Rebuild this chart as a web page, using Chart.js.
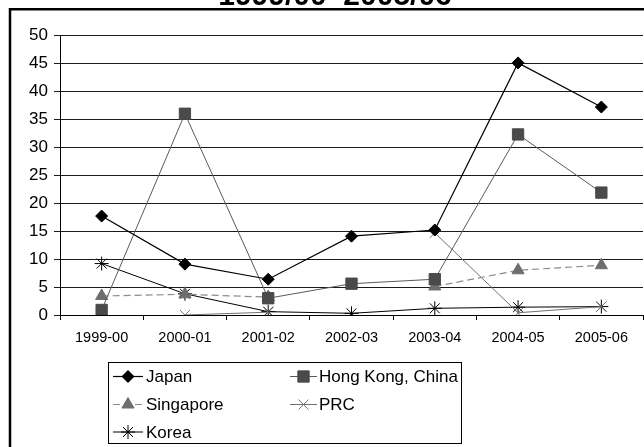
<!DOCTYPE html>
<html>
<head>
<meta charset="utf-8">
<script src="https://cdn.jsdelivr.net/npm/chart.js@4.4.1/dist/chart.umd.min.js"></script>
<style>
  html, body { margin: 0; padding: 0; background: #fff; overflow: hidden; }
  #wrap { position: absolute; left: 0; top: 0; width: 652px; height: 447px; }
</style>
</head>
<body>
<div id="wrap"><canvas id="c" width="652" height="447"></canvas></div>
<script>
// Fiscal years on the category axis
const categories = ['1999-00', '2000-01', '2001-02', '2002-03', '2003-04', '2004-05', '2005-06'];

// Shares by source economy (percent)
const japan     = [17.7, 9.1, 6.4, 14.1, 15.2, 45.1, 37.2];
const hongKong  = [0.9, 36.0, 3.0, 5.6, 6.4, 32.3, 21.9];
const singapore = [3.4, 3.7, 3.2, null, 5.1, 8.0, 8.9];
const prc       = [null, 0.0, 0.5, null, 14.7, 0.4, 1.5];
const korea     = [9.2, 3.8, 0.6, 0.3, 1.2, 1.4, 1.5];

// Y axis ticks
const yTicks = [0, 5, 10, 15, 20, 25, 30, 35, 40, 45, 50];

const titleText = '1999/00\u20132005/06';
const FONT = '"Liberation Sans", Arial, sans-serif';

const datasets = [
  { label: 'Japan', data: japan, borderColor: '#000', borderWidth: 1.2,
    pointStyle: 'rectRot', pointRadius: 6, pointBackgroundColor: '#000', pointBorderColor: '#000', pointBorderWidth: 1 },
  { label: 'Hong Kong, China', data: hongKong, borderColor: '#5a5a5a', borderWidth: 1,
    pointStyle: 'rect', pointRadius: 8, pointBackgroundColor: '#4a4a4a', pointBorderColor: '#4a4a4a', pointBorderWidth: 1 },
  { label: 'Singapore', data: singapore, borderColor: '#8c8c8c', borderWidth: 1.2, borderDash: [7, 4],
    pointStyle: 'triangle', pointRadius: 7, pointBackgroundColor: '#6e6e6e', pointBorderColor: '#6e6e6e', pointBorderWidth: 1 },
  { label: 'PRC', data: prc, borderColor: '#707070', borderWidth: 1,
    pointStyle: 'crossRot', pointRadius: 7, pointBackgroundColor: '#777', pointBorderColor: '#777', pointBorderWidth: 1 },
  { label: 'Korea', data: korea, borderColor: '#000', borderWidth: 1,
    pointStyle: 'star', pointRadius: 7, pointBackgroundColor: '#000', pointBorderColor: '#000', pointBorderWidth: 1 }
];
datasets.forEach(d => { d.fill = false; d.tension = 0; d.spanGaps = false; d.pointHoverRadius = d.pointRadius; });

// Frame, partially visible title and boxed two-column legend
const decorations = {
  id: 'decorations',
  beforeDraw(chart) {
    const ctx = chart.ctx;
    ctx.save();
    ctx.fillStyle = '#fff';
    ctx.fillRect(0, 0, chart.width, chart.height);
    ctx.strokeStyle = '#000';
    ctx.lineWidth = 2.5;
    ctx.beginPath();
    ctx.moveTo(10, chart.height + 5);
    ctx.lineTo(10, 9.3);
    ctx.lineTo(chart.width + 5, 9.3);
    ctx.stroke();
    ctx.restore();
  },
  afterDraw(chart) {
    const ctx = chart.ctx;
    ctx.save();
    // title
    ctx.fillStyle = '#000';
    ctx.font = 'bold 30px ' + FONT;
    ctx.textAlign = 'center';
    ctx.textBaseline = 'alphabetic';
    ctx.fillText(titleText, 335, 4.5);

    // legend box
    const box = { x: 108.5, y: 362.5, w: 353, h: 81 };
    ctx.strokeStyle = '#000';
    ctx.lineWidth = 1;
    ctx.strokeRect(box.x, box.y, box.w, box.h);

    const cols = [{ x0: 113, x1: 143, tx: 146 }, { x0: 290, x1: 317, tx: 319 }];
    const rows = [376.5, 404.5, 432];
    ctx.font = '17px ' + FONT;
    ctx.textAlign = 'left';
    ctx.textBaseline = 'middle';
    chart.data.datasets.forEach((ds, i) => {
      const col = cols[i % 2];
      const y = rows[Math.floor(i / 2)];
      ctx.save();
      ctx.strokeStyle = ds.borderColor;
      ctx.lineWidth = ds.borderWidth;
      ctx.setLineDash(ds.borderDash || []);
      ctx.beginPath();
      ctx.moveTo(col.x0, y);
      ctx.lineTo(col.x1, y);
      ctx.stroke();
      ctx.setLineDash([]);
      ctx.fillStyle = ds.pointBackgroundColor;
      ctx.strokeStyle = ds.pointBorderColor;
      ctx.lineWidth = ds.pointBorderWidth;
      Chart.helpers.drawPoint(ctx, {
        pointStyle: ds.pointStyle,
        radius: ds.pointRadius,
        rotation: 0,
        borderWidth: ds.pointBorderWidth
      }, (col.x0 + col.x1) / 2, y);
      ctx.restore();
      ctx.fillStyle = '#000';
      ctx.fillText(ds.label, col.tx, y + 1);
    });
    ctx.restore();
  }
};

new Chart(document.getElementById('c'), {
  type: 'line',
  data: { labels: categories, datasets },
  options: {
    responsive: false,
    animation: false,
    devicePixelRatio: 1,
    layout: { padding: { left: 0, top: 35.5, right: 4, bottom: 0 } },
    plugins: {
      legend: { display: false },
      title: { display: false },
      tooltip: { enabled: false }
    },
    scales: {
      x: {
        offset: true,
        afterFit(scale) { scale.height = 132; },
        grid: { offset: true, drawOnChartArea: false, drawTicks: true, tickLength: 5, color: '#000', lineWidth: 1 },
        border: { color: '#000', width: 1 },
        ticks: { color: '#000', font: { family: FONT, size: 14.5 }, padding: 9, maxRotation: 0, autoSkip: false }
      },
      y: {
        min: yTicks[0],
        max: yTicks[yTicks.length - 1],
        afterFit(scale) { scale.width = 60; },
        afterBuildTicks(scale) { scale.ticks = yTicks.map(v => ({ value: v })); },
        grid: { color: '#1a1a1a', lineWidth: 1, tickLength: 6, drawTicks: true },
        border: { color: '#000', width: 1 },
        ticks: { color: '#000', font: { family: FONT, size: 17 }, padding: 6 }
      }
    }
  },
  plugins: [decorations]
});
</script>
</body>
</html>
